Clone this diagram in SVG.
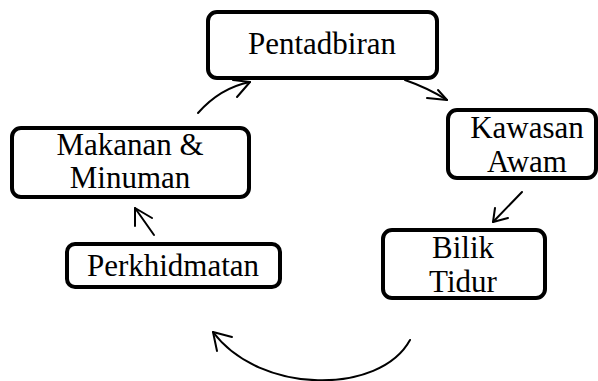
<svg xmlns="http://www.w3.org/2000/svg" width="598" height="381" viewBox="0 0 598 381">
<style>
.box{fill:#fff;stroke:#000;stroke-width:4}
.lbl{font-family:"Liberation Serif","Times New Roman",serif;font-size:31px;fill:#000;text-anchor:middle}
.con{fill:none;stroke:#000;stroke-width:2;stroke-linecap:round;stroke-linejoin:round}
</style>
<rect width="598" height="381" fill="#fff"/>
<g id="connectors">
<path class="con" d="M198,113 Q220,88 250,82"/>
<path class="con" d="M233,80 L250,82 L237,97"/>
<path class="con" d="M405,80 Q428,88 447,100"/>
<path class="con" d="M427,98 L447,100 L438,90"/>
<path class="con" d="M522,192 L493,222"/>
<path class="con" d="M495,208 L493,222 L508,218"/>
<path class="con" d="M410,340 C380,395 260,395 213,332"/>
<path class="con" d="M232,337 L213,332 L217,351"/>
<path class="con" d="M154,235 L135,208"/>
<path class="con" d="M135,226 L135,208 L152,218"/>
</g>
<g id="pentadbiran">
<rect class="box" x="208" y="12" width="229" height="66" rx="9"/>
<text class="lbl" x="322" y="54">Pentadbiran</text>
</g>
<g id="kawasan-awam">
<rect class="box" x="448" y="110" width="148" height="68" rx="9"/>
<text class="lbl" x="527" y="138">Kawasan</text>
<text class="lbl" x="527" y="172">Awam</text>
</g>
<g id="bilik-tidur">
<rect class="box" x="383" y="230" width="162" height="68" rx="9"/>
<text class="lbl" x="463" y="258">Bilik</text>
<text class="lbl" x="463" y="292">Tidur</text>
</g>
<g id="perkhidmatan">
<rect class="box" x="67" y="244" width="213" height="43" rx="8"/>
<text class="lbl" x="173" y="276">Perkhidmatan</text>
</g>
<g id="makanan-minuman">
<rect class="box" x="12" y="128" width="237" height="69" rx="9"/>
<text class="lbl" x="130" y="155">Makanan &amp;</text>
<text class="lbl" x="130" y="188">Minuman</text>
</g>
</svg>
